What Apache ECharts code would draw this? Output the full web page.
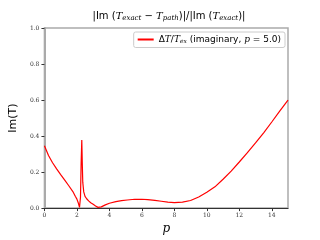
<!DOCTYPE html>
<html><head><meta charset="utf-8">
<script src="https://cdn.jsdelivr.net/npm/echarts@6/dist/echarts.min.js"></script>
<style>html,body{margin:0;padding:0;background:#fff}#c{width:320px;height:240px}</style>
</head><body><div id="c"></div>
<script>
const pValues = [0,0.25,0.5,0.75,1.0,1.25,1.5,1.75,1.9,2.0,2.08,2.16,2.22,2.26,2.3,2.33,2.36,2.42,2.5,2.6,2.72,2.85,3.0,3.15,3.3,3.37,3.5,3.75,4.0,4.4,4.75,5.1,5.56,6.0,6.36,6.8,7.2,7.6,8.0,8.5,9.0,9.5,10.0,10.5,11.0,11.5,12.0,12.5,13.0,13.5,14.0,14.5,15.0];
const imValues = [0.346,0.292,0.252,0.218,0.186,0.155,0.124,0.092,0.066,0.050,0.030,0.004,0.060,0.250,0.378,0.250,0.144,0.090,0.065,0.052,0.040,0.030,0.021,0.012,0.004,0.000,0.007,0.018,0.027,0.036,0.041,0.045,0.049,0.049,0.047,0.043,0.038,0.033,0.030,0.033,0.042,0.062,0.088,0.118,0.160,0.205,0.256,0.308,0.362,0.418,0.478,0.540,0.600];
const xTicks = [0,2,4,6,8,10,12,14];
const yTicks = [0.0,0.2,0.4,0.6,0.8,1.0];
const seriesName = 'legend';

const serif = 'DejaVu Serif';
const chart = echarts.init(document.getElementById('c'), null, {renderer:'canvas'});
chart.setOption({
  animation:false,
  backgroundColor:'#fff',
  title:{
    text:'{n||Im}{n| (}{i|T}{s|exact}{n| − }{i|T}{s|path}{n|)|/|Im}{n| (}{i|T}{s|exact}{n|)|}',
    left:164, top:5, textAlign:'center',
    textStyle:{fontWeight:'normal',rich:{
      n:{fontFamily:'DejaVu Sans',fontSize:10,fontWeight:'normal',color:'#000'},
      i:{fontFamily:serif,fontStyle:'italic',fontWeight:'normal',fontSize:10,color:'#000'},
      s:{fontFamily:serif,fontStyle:'italic',fontWeight:'normal',fontSize:7,color:'#000',padding:[5,0,0,0]}
    }}
  },
  grid:{left:40,right:32,top:28,bottom:27,containLabel:false,show:true,borderColor:'#aaa',borderWidth:1.5},
  legend:{
    right:35, top:32, orient:'horizontal',
    itemWidth:16, itemHeight:2, itemGap:4,
    padding:[3,4,3,4],
    borderColor:'#ccc', borderWidth:1, borderRadius:2, backgroundColor:'#fff',
    icon:'rect',
    formatter:function(){return '{n|Δ}{i|T}{n|/}{i|T}{s|ex}{n| (imaginary, }{i|p}{n| = 5.0)}';},
    textStyle:{rich:{
      n:{fontFamily:'DejaVu Sans',fontSize:9,color:'#000'},
      i:{fontFamily:serif,fontStyle:'italic',fontSize:9,color:'#000'},
      s:{fontFamily:serif,fontStyle:'italic',fontSize:6,color:'#000',padding:[4,0,0,0]}
    }},
    data:[seriesName]
  },
  xAxis:{
    type:'value', min:0, max:15, interval:2,
    name:'p', nameLocation:'middle', nameGap:12,
    nameTextStyle:{fontFamily:serif,fontStyle:'italic',fontSize:12,color:'#000'},
    axisLine:{show:true,lineStyle:{color:'#333',width:1}},
    axisTick:{show:true,length:3,lineStyle:{color:'#333'}},
    axisLabel:{fontFamily:serif,fontSize:6,color:'#333',margin:4,showMaxLabel:false,
      formatter:function(v){return xTicks.indexOf(v)>=0?String(v):'';}},
    splitLine:{show:false}
  },
  yAxis:{
    type:'value', min:0, max:1, interval:0.2,
    name:'Im(T)', nameLocation:'middle', nameGap:17,
    nameTextStyle:{fontFamily:'DejaVu Sans',fontSize:11,color:'#000'},
    axisLine:{show:true,lineStyle:{color:'#aaa',width:2}},
    axisTick:{show:true,length:3,lineStyle:{color:'#333'}},
    axisLabel:{fontFamily:serif,fontSize:6,color:'#333',margin:5,
      formatter:function(v){return v.toFixed(1);}},
    splitLine:{show:false}
  },
  series:[{
    name:seriesName, type:'line', showSymbol:false, smooth:false,
    data:pValues.map((p,i)=>[p,imValues[i]]),
    lineStyle:{color:'#ff0000',width:1.2}, itemStyle:{color:'#ff0000'},
    clip:true
  }]
});
</script></body></html>
